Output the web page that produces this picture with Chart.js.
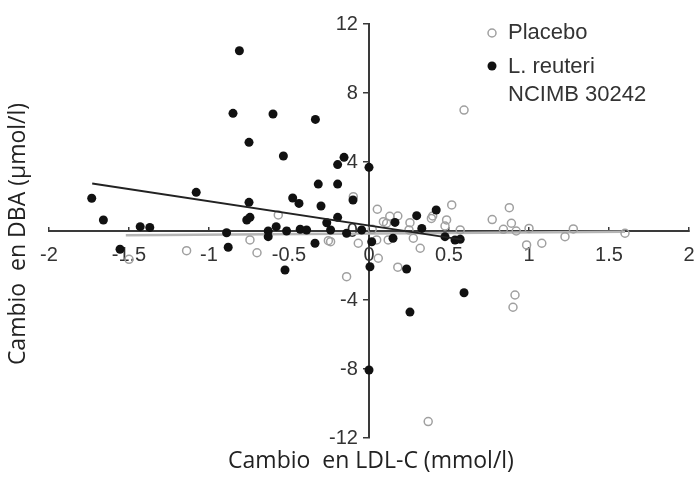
<!DOCTYPE html>
<html>
<head>
<meta charset="utf-8">
<script src="https://cdn.jsdelivr.net/npm/chart.js@4/dist/chart.umd.min.js"></script>
<style>
  html, body { margin: 0; padding: 0; background: #fff; }
  #wrap { width: 697px; height: 477px; }
</style>
</head>
<body>
<div id="wrap"><canvas id="chart" width="697" height="477"></canvas></div>
<script>
// Scatter data (x: change in LDL-C, y: change in DBA)
const placeboX = [0.594, 0.77, 0.877, 0.89, 0.517, 0.485, 0.398, -0.098, 0.052, 0.13, 0.18, 0.09, 0.256, 0.11, 0.39,
  0.475, 0.57, 0.048, 0.12, 0.277, 0.32, 0.058, 0.18, -0.14, 0.9125, 0.90, 0.985, 1.08, 1.225, 1.277,
  1.6, 0.84, 0.92, 1.0, 0.37, -1.14, -0.70, -0.744, -0.567, -0.24, -0.067, -0.254, -1.5, 0.02, 0.25];
const placeboY = [7.01, 0.66, 1.35, 0.45, 1.51, 0.64, 0.87, 1.99, 1.26, 0.85, 0.87, 0.54, 0.48, 0.45, 0.73,
  0.29, 0.06, -0.52, -0.52, -0.42, -1.0, -1.58, -2.1, -2.65, -3.71, -4.42, -0.81, -0.71, -0.33, 0.12,
  -0.13, 0.1, 0.0, 0.15, -11.05, -1.14, -1.26, -0.52, 0.93, -0.62, -0.71, -0.56, -1.64, 0.1, 0.06];

const reuteriX = [-0.81, -0.85, -0.60, -0.335, -0.75, -0.535, -0.156, -0.196, 0.0, -0.317, -0.196, -1.733, -1.08,
  -0.75, -0.477, -0.4375, -0.30, -0.10, -1.66, -0.764, -0.744, -0.196, -1.43, -1.37, -0.264, -0.63, -0.58,
  -0.515, -0.43, -0.39, -0.63, -0.3375, -0.525, -0.24, -0.14, -0.046, 0.006, 0.017, 0.0, -0.89, -0.88,
  -1.556, 0.1625, 0.298, 0.42, 0.33, 0.475, 0.5375, 0.57, 0.235, 0.15, 0.594, 0.256];
const reuteriY = [10.45, 6.82, 6.78, 6.47, 5.14, 4.35, 4.27, 3.85, 3.69, 2.72, 2.72, 1.9, 2.24,
  1.66, 1.91, 1.6, 1.45, 1.8, 0.64, 0.64, 0.79, 0.79, 0.25, 0.21, 0.48, 0.0, 0.25,
  0.0, 0.1, 0.06, -0.33, -0.71, -2.26, 0.06, -0.13, 0.06, -2.07, -0.62, -8.06, -0.1, -0.94,
  -1.06, 0.5, 0.89, 1.22, 0.15, -0.33, -0.52, -0.48, -2.2, -0.42, -3.58, -4.7];

// Fitted lines (end points)
const placeboFitX = [-1.52, 1.6];
const placeboFitY = [-0.25, -0.05];
const reuteriFitX = [-1.73, 0.58];
const reuteriFitY = [2.75, -0.5];

const xTicks = [-2, -1.5, -1, -0.5, 0, 0.5, 1, 1.5, 2];
const yTicks = [-12, -8, -4, 0, 4, 8, 12];

const xTitle = 'Cambio  en LDL-C (mmol/l)';
const yTitle = 'Cambio  en DBA (\u00b5mol/l)';
const legendLabels = ['Placebo', 'L. reuteri', 'NCIMB 30242'];

const toPoints = (xs, ys) => xs.map((x, i) => ({ x, y: ys[i] }));

const GRAY = '#a0a0a0';
const DARK = '#111';
const AXIS = '#3a3a3a';

// axes sit inside the plot, so keep their label padding out of the layout
const noPad = (scale) => {
  scale.paddingLeft = 0;
  scale.paddingRight = 0;
  scale.paddingTop = 0;
  scale.paddingBottom = 0;
};

// titles + legend are drawn by hand
const extraText = {
  id: 'extraText',
  afterDraw(chart) {
    const ctx = chart.ctx;
    ctx.save();
    ctx.fillStyle = '#222';
    ctx.font = '23px "Open Sans"';
    ctx.textAlign = 'center';
    ctx.textBaseline = 'middle';
    ctx.fillText(xTitle, 371, 461);
    ctx.save();
    ctx.translate(18, 234);
    ctx.rotate(-Math.PI / 2);
    ctx.fillText(yTitle, 0, 0);
    ctx.restore();

    // legend
    ctx.beginPath();
    ctx.arc(492, 33, 4, 0, Math.PI * 2);
    ctx.lineWidth = 1.5;
    ctx.strokeStyle = GRAY;
    ctx.stroke();
    ctx.beginPath();
    ctx.arc(492, 66, 4.5, 0, Math.PI * 2);
    ctx.fillStyle = DARK;
    ctx.fill();

    ctx.fillStyle = '#333';
    ctx.font = '22px "Liberation Sans"';
    ctx.textAlign = 'left';
    ctx.fillText(legendLabels[0], 508, 33);
    ctx.fillText(legendLabels[1], 508, 67);
    ctx.fillText(legendLabels[2], 508, 95);
    ctx.restore();
  }
};

new Chart(document.getElementById('chart'), {
  type: 'scatter',
  data: {
    datasets: [
      {
        label: 'L. reuteri fit',
        type: 'line',
        data: toPoints(reuteriFitX, reuteriFitY),
        borderColor: '#222',
        borderWidth: 2,
        pointRadius: 0,
        fill: false,
        order: 1
      },
      {
        label: 'Placebo fit',
        type: 'line',
        data: toPoints(placeboFitX, placeboFitY),
        borderColor: '#b5b5b5',
        borderWidth: 2.5,
        pointRadius: 0,
        fill: false,
        order: 4
      },
      {
        label: 'L. reuteri NCIMB 30242',
        data: toPoints(reuteriX, reuteriY),
        backgroundColor: DARK,
        borderColor: DARK,
        borderWidth: 0,
        pointRadius: 4.5,
        order: 2
      },
      {
        label: 'Placebo',
        data: toPoints(placeboX, placeboY),
        backgroundColor: 'rgba(255,255,255,0)',
        borderColor: GRAY,
        borderWidth: 1.5,
        pointRadius: 4,
        order: 3
      }
    ]
  },
  options: {
    responsive: false,
    animation: false,
    layout: { padding: { left: 49, right: 8, top: 24, bottom: 39 } },
    plugins: {
      legend: { display: false },
      tooltip: { enabled: false }
    },
    scales: {
      x: {
        type: 'linear',
        position: { y: 0 },
        min: -2,
        max: 2,
        afterBuildTicks: (axis) => { axis.ticks = xTicks.map(v => ({ value: v })); },
        afterFit: noPad,
        grid: { drawOnChartArea: false, drawTicks: true, tickLength: -5, color: AXIS, lineWidth: 1.5 },
        border: { display: true, color: AXIS, width: 2 },
        ticks: {
          autoSkip: false, maxRotation: 0, padding: 17, color: '#333',
          font: { family: 'Liberation Sans', size: 20 },
          callback: (v) => String(v)
        }
      },
      y: {
        type: 'linear',
        position: { x: 0 },
        min: -12,
        max: 12,
        afterBuildTicks: (axis) => { axis.ticks = yTicks.map(v => ({ value: v })); },
        afterFit: noPad,
        grid: { drawOnChartArea: false, drawTicks: true, tickLength: 5, color: AXIS, lineWidth: 1.5 },
        border: { display: true, color: AXIS, width: 2 },
        ticks: {
          autoSkip: false, color: '#333',
          font: { family: 'Liberation Sans', size: 20 },
          // labels are drawn right at the axis here, trailing spaces push them off it
          callback: (v) => v + '  '
        }
      }
    }
  },
  plugins: [extraText]
});
</script>
</body>
</html>
